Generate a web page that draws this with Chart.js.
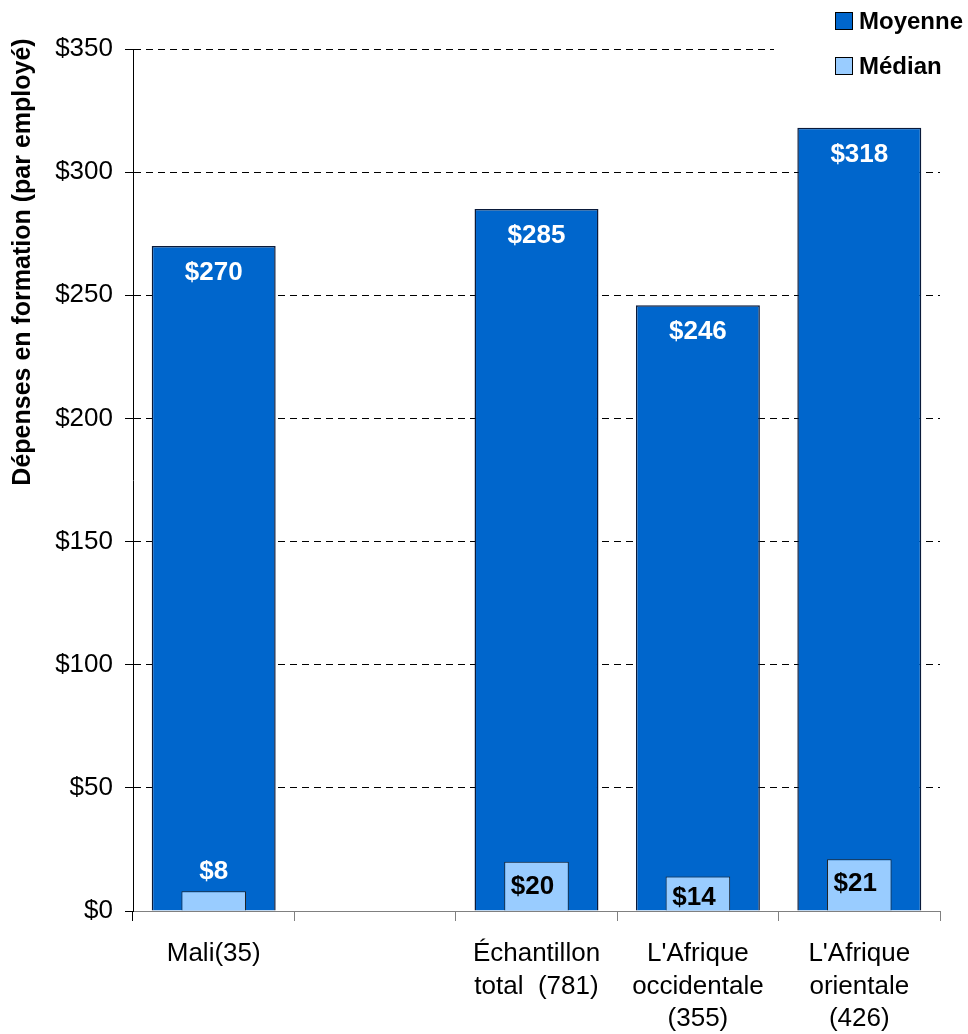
<!DOCTYPE html>
<html lang="fr">
<head>
<meta charset="utf-8">
<title>Dépenses en formation</title>
<script src="https://cdn.jsdelivr.net/npm/chart.js@4.4.1/dist/chart.umd.min.js"></script>
<style>
  html, body { margin: 0; padding: 0; background: #fff; }
  #wrap { width: 968px; height: 1034px; }
</style>
</head>
<body>
<div id="wrap"><canvas id="chart" width="968" height="1034"></canvas></div>
<script>
/* ---------- data ---------- */
const categories = [
    "Mali(35)",
    "",
    ["Échantillon", "total  (781)"],
    ["L'Afrique", "occidentale", "(355)"],
    ["L'Afrique", "orientale", "(426)"]
];
const moyenne = [270, null, 285, 246, 318];
const median  = [8, null, 20, 14, 21];
const yTicks  = [0, 50, 100, 150, 200, 250, 300, 350];
const yTitle  = "Dépenses en formation (par employé)";

const FONT = "'Liberation Sans', Arial, sans-serif";
const DARK = "#0066CC";
const LIGHT = "#99CCFF";

/* ---------- plugins ---------- */
// white/black value labels inside the bars
const valueLabels = {
    id: "valueLabels",
    afterDatasetsDraw(chart) {
        const ctx = chart.ctx;
        ctx.save();
        ctx.font = "bold 26px " + FONT;
        ctx.textAlign = "center";
        ctx.textBaseline = "middle";

        chart.getDatasetMeta(0).data.forEach((bar, i) => {
            if (moyenne[i] == null) return;
            ctx.fillStyle = "#fff";
            ctx.fillText("$" + moyenne[i], bar.x, bar.y + 27);
        });

        chart.getDatasetMeta(1).data.forEach((bar, i) => {
            if (median[i] == null) return;
            const h = bar.base - bar.y;
            if (h < 25) {
                // too short: label sits above the bar
                ctx.fillStyle = "#fff";
                ctx.fillText("$" + median[i], bar.x, bar.y - 19);
            } else {
                ctx.fillStyle = "#000";
                ctx.fillText("$" + median[i], bar.x - 4, Math.min(bar.y + 25, bar.base - 13));
            }
        });
        ctx.restore();
    }
};

// rotated axis title + boxed legend in the top-right corner
const decorations = {
    id: "decorations",
    afterDraw(chart) {
        const ctx = chart.ctx;
        ctx.save();

        ctx.translate(23, 262);
        ctx.rotate(-Math.PI / 2);
        ctx.font = "bold 25px " + FONT;
        ctx.fillStyle = "#000";
        ctx.textAlign = "center";
        ctx.textBaseline = "middle";
        ctx.fillText(yTitle, 0, 0);
        ctx.setTransform(1, 0, 0, 1, 0, 0);

        ctx.fillStyle = "#fff";
        ctx.fillRect(774, 0, 194, 88);

        const items = chart.data.datasets;
        ctx.font = "bold 24px " + FONT;
        ctx.textAlign = "left";
        items.forEach((ds, i) => {
            const cy = 21 + i * 45;
            ctx.fillStyle = ds.backgroundColor;
            ctx.fillRect(835, cy - 9, 18, 18);
            ctx.strokeStyle = "#000";
            ctx.lineWidth = 1;
            ctx.strokeRect(835.5, cy - 8.5, 17, 17);
            ctx.fillStyle = "#000";
            ctx.fillText(ds.label, 859, cy + 1);
        });
        ctx.restore();
    }
};

/* ---------- chart ---------- */
new Chart(document.getElementById("chart"), {
    type: "bar",
    data: {
        labels: categories,
        datasets: [
            {
                label: "Moyenne",
                data: moyenne,
                backgroundColor: DARK,
                borderColor: "#0a1a3a",
                borderWidth: 1.5,
                barPercentage: 0.768,
                categoryPercentage: 1,
                grouped: false,
                order: 1
            },
            {
                label: "Médian",
                data: median,
                backgroundColor: LIGHT,
                borderColor: "#222",
                borderWidth: 1,
                barPercentage: 0.40,
                categoryPercentage: 1,
                grouped: false,
                order: 0
            }
        ]
    },
    options: {
        responsive: false,
        animation: false,
        devicePixelRatio: 1,
        layout: { padding: { left: 0, top: 49, right: 28, bottom: 0 } },
        plugins: {
            legend: { display: false },
            tooltip: { enabled: false }
        },
        scales: {
            x: {
                afterFit(scale) { scale.height = 123; },
                grid: {
                    offset: true,
                    drawOnChartArea: false,
                    tickLength: 10,
                    tickColor: (c) => c.index === 0 ? "#000" : "#808080",
                    tickWidth: 1
                },
                border: { color: "#808080", width: 1 },
                ticks: {
                    color: "#000",
                    padding: 17,
                    maxRotation: 0,
                    autoSkip: false,
                    font: { family: FONT, size: 26, lineHeight: 1.25 }
                }
            },
            y: {
                min: 0,
                max: 350,
                afterFit(scale) { scale.width = 133; },
                afterBuildTicks(scale) {
                    scale.ticks = yTicks.map(v => ({ value: v }));
                },
                grid: {
                    color: (c) => c.tick && c.tick.value === 0 ? "rgba(0,0,0,0)" : "#000",
                    lineWidth: 1,
                    tickLength: 8,
                    tickColor: "#000",
                    tickBorderDash: []
                },
                border: { color: "#000", width: 1, dash: [7, 5] },
                ticks: {
                    color: "#000",
                    padding: 12,
                    font: { family: FONT, size: 26 },
                    callback: (v) => "$" + v
                }
            }
        }
    },
    plugins: [valueLabels, decorations]
});
</script>
</body>
</html>
